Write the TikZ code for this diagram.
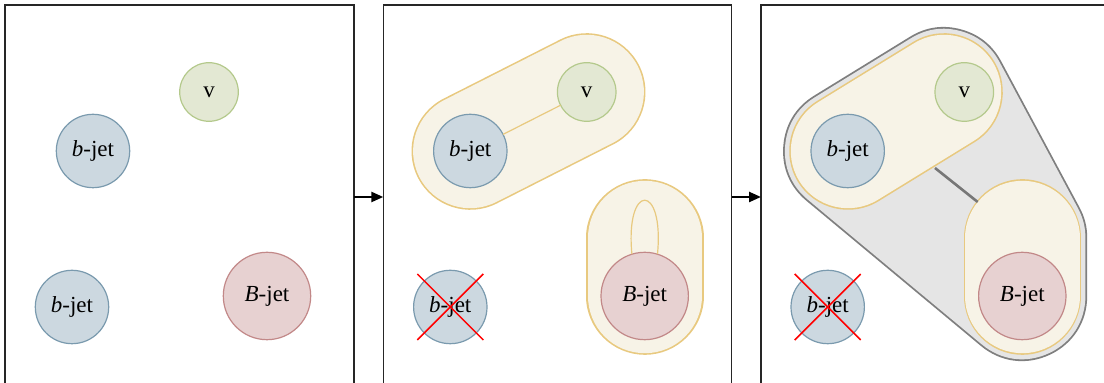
\documentclass[tikz,border=0pt]{standalone}
\usepackage{fontspec}
\setmainfont{Liberation Serif}
\usetikzlibrary{arrows.meta,calc}
\definecolor{bjfill}{HTML}{CCD8E0}
\definecolor{bjdraw}{HTML}{7A9AAE}
\definecolor{vfill}{HTML}{E3E8D3}
\definecolor{vdraw}{HTML}{B4C98C}
\definecolor{Bfill}{HTML}{E7D1D1}
\definecolor{Bdraw}{HTML}{C28888}
\definecolor{capfill}{HTML}{F7F3E7}
\definecolor{capdraw}{HTML}{E8C97F}
\definecolor{hullfill}{HTML}{E5E5E5}
\definecolor{hulldraw}{HTML}{7F7F7F}
\definecolor{linkgray}{HTML}{777777}
\definecolor{crossred}{HTML}{FF0000}
\begin{document}
\begin{tikzpicture}[x=0.5pt,y=-0.5pt,
  jetbase/.style={circle, line width=0.6pt, inner sep=0pt, outer sep=0pt, font=\fontsize{11.5}{13}\selectfont},
  bjet/.style={jetbase, draw=bjdraw, fill=bjfill, minimum size=36.7pt},
  vtx/.style={jetbase, draw=vdraw, fill=vfill, minimum size=29.3pt},
  Bjet/.style={jetbase, draw=Bdraw, fill=Bfill, minimum size=43.7pt},
  panel/.style={draw=black!85, line width=0.6pt, inner sep=0pt, outer sep=0pt, minimum height=192pt},
  arr/.style={line width=1.2pt, -{Triangle[length=6pt,width=5pt]}},
  capout/.style={capdraw, line cap=round, line join=round, line width=58.8pt},
  capin/.style={capfill, line cap=round, line join=round, line width=57.2pt},
  crossline/.style={crossred, line width=0.75pt},
  link/.style={capdraw, line width=0.6pt}]
\useasboundingbox (0,0) rectangle (1104,383);
\clip (0,0) rectangle (1104,383);

% panels
\node[panel, minimum width=174.5pt] (p1) at (179.5,197) {};
\node[panel, minimum width=174.2pt] (p2) at (557.5,197) {};
\node[panel, minimum width=174.5pt] (p3) at (935.5,197) {};
\draw[arr] (p1.east) -- (p2.west);
\draw[arr] (p2.east) -- (p3.west);

% ---------- panel 1 ----------
\node[vtx] (v1) at (209,92) {v};
\node[bjet] (b1) at (93,151) {\textit{b}-jet};
\node[bjet] (c1) at (72,307) {\textit{b}-jet};
\node[Bjet] (B1) at (267,296) {\textit{B}-jet};

% ---------- panel 2 ----------
\coordinate (a2) at (470.3,151);
\coordinate (e2) at (586.7,92);
\coordinate (t2) at (644.7,238);
\coordinate (u2) at (644.7,296);
\draw[capout] (a2) -- (e2);
\draw[capin] (a2) -- (e2);
\draw[capout] (t2) -- (u2);
\draw[capin] (t2) -- (u2);
\node[vtx] (v2) at (586.7,92) {v};
\node[bjet] (b2) at (470.3,151) {\textit{b}-jet};
\node[bjet] (c2) at (450.3,307) {\textit{b}-jet};
\node[Bjet] (B2) at (644.7,296) {\textit{B}-jet};
\draw[link] (b2) -- (v2);
\draw[link] (B2.107) .. controls +(-7,-72) and +(7,-72) .. (B2.73);
\draw[crossline] ($(c2)+(-33,-33)$) -- ($(c2)+(33,33)$);
\draw[crossline] ($(c2)+(-33,33)$) -- ($(c2)+(33,-33)$);

% ---------- panel 3 ----------
\coordinate (a3) at (848,151);
\coordinate (e3) at (944,92);
\coordinate (t3) at (1022.3,238);
\coordinate (u3) at (1022.3,296);
\draw[hulldraw, line width=64.9pt, line join=round] (a3) -- (e3) -- (t3) -- (u3) -- cycle;
\draw[hullfill, fill=hullfill, line width=63.1pt, line join=round] (a3) -- (e3) -- (t3) -- (u3) -- cycle;
\draw[capout] (a3) -- (e3);
\draw[capin] (a3) -- (e3);
\draw[capout] (t3) -- (u3);
\draw[capin] (t3) -- (u3);
\coordinate (g1) at (935,168);
\coordinate (g2) at (977.7,202);
\draw[linkgray, line width=1.3pt] (g1) -- (g2);
\node[vtx] (v3) at (964.3,92) {v};
\node[bjet] (b3) at (847.7,151) {\textit{b}-jet};
\node[bjet] (c3) at (827.7,307) {\textit{b}-jet};
\node[Bjet] (B3) at (1022.3,296) {\textit{B}-jet};
\draw[crossline] ($(c3)+(-33,-33)$) -- ($(c3)+(33,33)$);
\draw[crossline] ($(c3)+(-33,33)$) -- ($(c3)+(33,-33)$);
\end{tikzpicture}
\end{document}
